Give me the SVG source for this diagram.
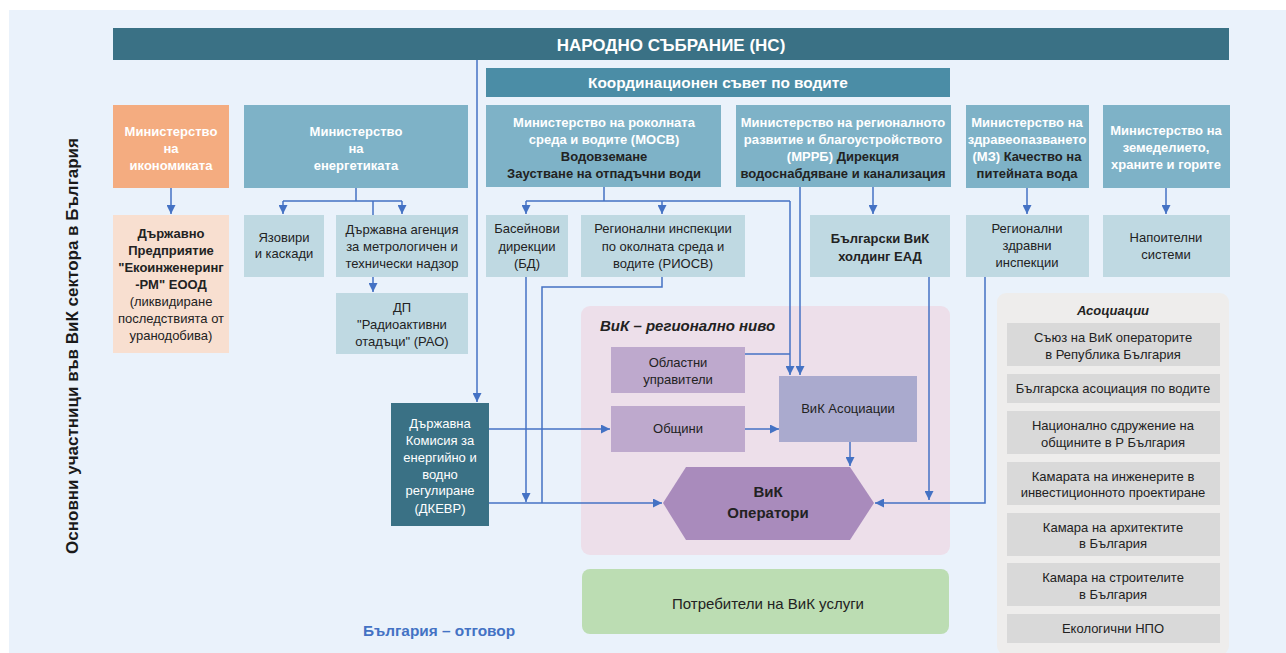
<svg xmlns="http://www.w3.org/2000/svg" width="1286" height="653" viewBox="0 0 1286 653">
<style>
text{font-family:"Liberation Sans",Arial,sans-serif;text-anchor:middle}
.w{fill:#fff;font-weight:bold;font-size:13px}
.d{fill:#222;font-weight:bold;font-size:13px}
.r{fill:#222;font-size:13px}
.rw{fill:#fff;font-size:13px}
.min{fill:#7EB2C7}
.sub{fill:#BFD9E2}
.ass{fill:#D9D9D9}
.c{fill:none;stroke:#4472C4;stroke-width:1.5}
.a{marker-end:url(#ah)}
</style>
<defs>
<marker id="ah" markerUnits="userSpaceOnUse" markerWidth="9" markerHeight="9" viewBox="0 0 8 8" refX="8" refY="4" orient="auto">
<path d="M0,0 L8,4 L0,8 z" fill="#4472C4"/>
</marker>
</defs>
<rect x="0" y="0" width="1286" height="653" fill="#fff"/>
<rect x="9" y="10" width="1277" height="643" fill="#EAF2FB"/>
<text x="78" y="346" transform="rotate(-90 78 346)" style="font-size:17px;font-weight:bold;fill:#1a1a1a">Основни участници във ВиК сектора в България</text>
<g id="regional-panel">
<rect x="581" y="306" width="369" height="249" rx="9" fill="#EDDFEA"/>
<text x="600" y="331" style="text-anchor:start;font-size:15px;font-weight:bold;font-style:italic;fill:#222">ВиК – регионално ниво</text>
</g>
<g id="associations-panel">
<rect x="997" y="293" width="232" height="362" rx="9" fill="#EEEDEC"/>
<text x="1113" y="315" style="font-size:13px;font-weight:bold;font-style:italic;fill:#222">Асоциации</text>
</g>
<g id="connectors">
<path class="c a" d="M477,60 V402"/>
<path class="c a" d="M171,188 V214"/>
<path class="c" d="M356,188 V201 M283,201 H402"/>
<path class="c a" d="M283,201 V214"/>
<path class="c a" d="M402,201 V214"/>
<path class="c a" d="M373,201 V292"/>
<path class="c" d="M604,187 V201 M526,201 H790"/>
<path class="c a" d="M526,201 V214"/>
<path class="c a" d="M662,201 V214"/>
<path class="c a" d="M790,201 V375"/>
<path class="c a" d="M800,187 V375"/>
<path class="c" d="M745,354 H790"/>
<path class="c a" d="M873,187 V214"/>
<path class="c a" d="M1027,188 V214"/>
<path class="c a" d="M1166,188 V214"/>
<path class="c a" d="M526,277 V502"/>
<path class="c" d="M662,277 V287 H542 V503"/>
<path class="c a" d="M489,503 H662"/>
<path class="c a" d="M489,429 H610"/>
<path class="c a" d="M745,429 H779"/>
<path class="c a" d="M850,442 V466"/>
<path class="c a" d="M929,277 V500"/>
<path class="c a" d="M985,277 V503 H875"/>
</g>
<g id="ns">
<rect x="113" y="28" width="1116" height="32" fill="#3A7185"/>
<text x="671" y="51" style="fill:#fff;font-weight:bold;font-size:17px">НАРОДНО СЪБРАНИЕ (НС)</text>
</g>
<g id="coord">
<rect x="486" y="68" width="464" height="29" fill="#4B8DA6"/>
<text x="718" y="88" style="fill:#fff;font-weight:bold;font-size:15.4px">Координационен съвет по водите</text>
</g>
<g id="min-econ">
<rect x="113" y="105" width="116" height="83" fill="#F4AC80"/>
<text class="w" x="171" y="136">Министерство</text>
<text class="w" x="171" y="153">на</text>
<text class="w" x="171" y="170">икономиката</text>
</g>
<g id="min-energy">
<rect class="min" x="244" y="105" width="224" height="83"/>
<text class="w" x="356" y="136">Министерство</text>
<text class="w" x="356" y="153">на</text>
<text class="w" x="356" y="170">енергетиката</text>
</g>
<g id="mosv">
<rect class="min" x="486" y="105" width="235" height="82"/>
<text class="w" x="604" y="127">Министерство на роколната</text>
<text class="w" x="604" y="144">среда и водите (МОСВ)</text>
<text class="d" x="604" y="161">Водовземане</text>
<text class="d" x="604" y="178">Заустване на отпадъчни води</text>
</g>
<g id="mrrb">
<rect class="min" x="736" y="105" width="215" height="82"/>
<text class="w" x="843" y="127">Министерство на регионалното</text>
<text class="w" x="843" y="144">развитие и благоустройството</text>
<text x="843" y="161" style="font-weight:bold;font-size:13px"><tspan fill="#fff">(МРРБ) </tspan><tspan fill="#222">Дирекция</tspan></text>
<text class="d" x="843" y="178">водоснабдяване и канализация</text>
</g>
<g id="mz">
<rect class="min" x="966" y="105" width="123" height="83"/>
<text class="w" x="1027" y="127">Министерство на</text>
<text class="w" x="1027" y="144">здравеопазването</text>
<text x="1027" y="161" style="font-weight:bold;font-size:13px"><tspan fill="#fff">(МЗ) </tspan><tspan fill="#222">Качество на</tspan></text>
<text class="d" x="1027" y="178">питейната вода</text>
</g>
<g id="mzhg">
<rect class="min" x="1103" y="105" width="127" height="83"/>
<text class="w" x="1166" y="135">Министерство на</text>
<text class="w" x="1166" y="152">земеделието,</text>
<text class="w" x="1166" y="169">храните и горите</text>
</g>
<g id="ekoing">
<rect x="113" y="215" width="116" height="138" fill="#F8DFD0"/>
<text class="d" x="171" y="238">Държавно</text>
<text class="d" x="171" y="255">Предприятие</text>
<text class="d" x="171" y="272">"Екоинженеринг</text>
<text class="d" x="171" y="289">-РМ" ЕООД</text>
<text class="r" x="171" y="306">(ликвидиране</text>
<text class="r" x="171" y="323">последствията от</text>
<text class="r" x="171" y="340">уранодобива)</text>
</g>
<g id="yazoviri">
<rect class="sub" x="244" y="215" width="80" height="62"/>
<text class="r" x="284" y="242">Язовири</text>
<text class="r" x="284" y="258">и каскади</text>
</g>
<g id="agency">
<rect class="sub" x="336" y="215" width="132" height="62"/>
<text class="r" x="402" y="234">Държавна агенция</text>
<text class="r" x="402" y="251">за метрологичен и</text>
<text class="r" x="402" y="268">технически надзор</text>
</g>
<g id="rao">
<rect class="sub" x="336" y="293" width="132" height="61"/>
<text class="r" x="402" y="312">ДП</text>
<text class="r" x="402" y="329">"Радиоактивни</text>
<text class="r" x="402" y="346">отадъци" (РАО)</text>
</g>
<g id="bd">
<rect class="sub" x="486" y="215" width="82" height="62"/>
<text class="r" x="527" y="233">Басейнови</text>
<text class="r" x="527" y="251">дирекции</text>
<text class="r" x="527" y="268">(БД)</text>
</g>
<g id="riosv">
<rect class="sub" x="581" y="215" width="164" height="62"/>
<text class="r" x="663" y="233">Регионални инспекции</text>
<text class="r" x="663" y="251">по околната среда и</text>
<text class="r" x="663" y="268">водите (РИОСВ)</text>
</g>
<g id="holding">
<rect class="sub" x="810" y="215" width="140" height="62"/>
<text class="d" x="880" y="243">Български ВиК</text>
<text class="d" x="880" y="261">холдинг ЕАД</text>
</g>
<g id="rzi">
<rect class="sub" x="966" y="215" width="123" height="62"/>
<text class="r" x="1027" y="233">Регионални</text>
<text class="r" x="1027" y="250">здравни</text>
<text class="r" x="1027" y="267">инспекции</text>
</g>
<g id="napoitelni">
<rect class="sub" x="1103" y="215" width="127" height="62"/>
<text class="r" x="1166" y="242">Напоителни</text>
<text class="r" x="1166" y="259">системи</text>
</g>
<g id="dkevr">
<rect x="391" y="403" width="98" height="123" fill="#3A7185"/>
<text class="rw" x="440" y="428">Държавна</text>
<text class="rw" x="440" y="445">Комисия за</text>
<text class="rw" x="440" y="462">енергийно и</text>
<text class="rw" x="440" y="479">водно</text>
<text class="rw" x="440" y="495">регулиране</text>
<text class="rw" x="440" y="513">(ДКЕВР)</text>
</g>
<g id="oblastni">
<rect x="611" y="347" width="134" height="46" fill="#BEA9CD"/>
<text class="r" x="678" y="367">Областни</text>
<text class="r" x="678" y="384">управители</text>
</g>
<g id="obshtini">
<rect x="611" y="406" width="134" height="46" fill="#BEA9CD"/>
<text class="r" x="678" y="433">Общини</text>
</g>
<g id="vik-asoc">
<rect x="779" y="376" width="138" height="66" fill="#AAAACE"/>
<text class="r" x="848" y="413">ВиК Асоциации</text>
</g>
<g id="vik-operatori">
<polygon points="663,503 686,467 850,467 874,503 850,540 686,540" fill="#A98BBC"/>
<text x="768" y="497" style="fill:#222;font-weight:bold;font-size:15px">ВиК</text>
<text x="768" y="518" style="fill:#222;font-weight:bold;font-size:15px">Оператори</text>
</g>
<g id="potrebiteli">
<rect x="582" y="569" width="367" height="65" rx="8" fill="#BCDDB3"/>
<text class="r" x="768" y="609" style="font-size:15px">Потребители на ВиК услуги</text>
</g>
<text x="439" y="636" style="fill:#4472C4;font-weight:bold;font-size:15.4px">България – отговор</text>
<g id="asoc-items">
<rect class="ass" x="1007" y="323" width="213" height="43"/>
<text class="r" x="1113" y="342">Съюз на ВиК операторите</text>
<text class="r" x="1113" y="359">в Република България</text>
<rect class="ass" x="1007" y="374" width="213" height="29"/>
<text class="r" x="1113" y="393">Българска асоциация по водите</text>
<rect class="ass" x="1007" y="411" width="213" height="43"/>
<text class="r" x="1113" y="430">Национално сдружение на</text>
<text class="r" x="1113" y="447">общините в Р България</text>
<rect class="ass" x="1007" y="462" width="213" height="43"/>
<text class="r" x="1113" y="481">Камарата на инженерите в</text>
<text class="r" x="1113" y="497">инвестиционното проектиране</text>
<rect class="ass" x="1007" y="513" width="213" height="43"/>
<text class="r" x="1113" y="532">Камара на архитектите</text>
<text class="r" x="1113" y="548">в България</text>
<rect class="ass" x="1007" y="563" width="213" height="43"/>
<text class="r" x="1113" y="582">Камара на строителите</text>
<text class="r" x="1113" y="599">в България</text>
<rect class="ass" x="1007" y="614" width="213" height="29"/>
<text class="r" x="1113" y="633">Екологични НПО</text>
</g>
</svg>
